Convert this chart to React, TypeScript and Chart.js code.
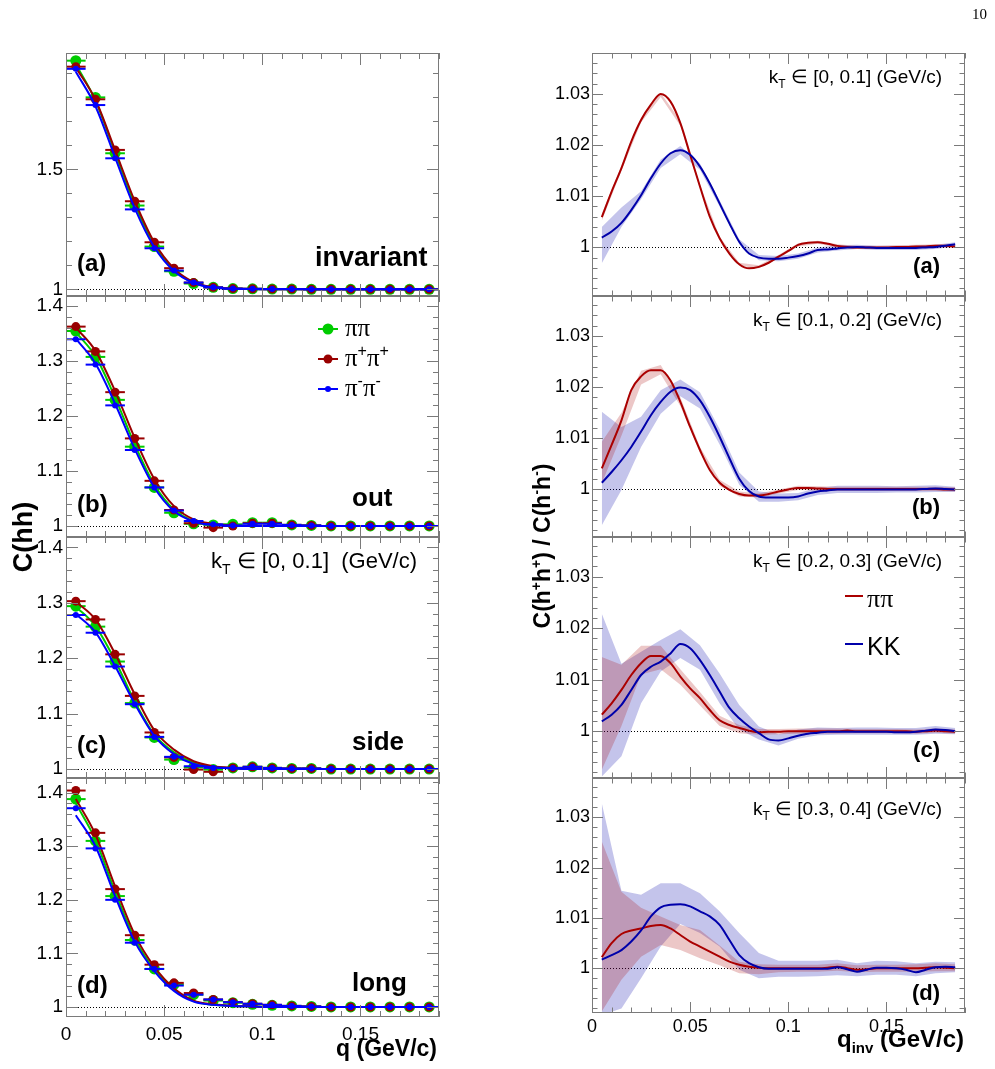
import React, { useEffect, useRef } from "react";
import { Chart, registerables } from "chart.js";

Chart.register(...registerables);

const FONT = "'Liberation Sans', Arial, Helvetica, sans-serif";
const SERIF = "'Liberation Serif', 'Times New Roman', serif";
const PAGE_H = 1069;

// q bin centres (GeV/c) of the correlation-function histograms
const qBins = [0.005, 0.015, 0.025, 0.035, 0.045, 0.055, 0.065, 0.075, 0.085, 0.095, 0.105, 0.115, 0.125, 0.135, 0.145, 0.155, 0.165, 0.175, 0.185];
const qBinHalfWidth = 0.005;
// finer q grid of the ratio curves
const qFine = [0.005, 0.01, 0.015, 0.02, 0.025, 0.03, 0.035, 0.04, 0.045, 0.05, 0.055, 0.06, 0.065, 0.07, 0.075, 0.08, 0.085, 0.09, 0.095, 0.1, 0.105, 0.11, 0.115, 0.12, 0.125, 0.13, 0.135, 0.14, 0.145, 0.15, 0.155, 0.16, 0.165, 0.17, 0.175, 0.18, 0.185];

// tick labels
const qTicks = [0, 0.05, 0.1, 0.15];
const invTicks = [1, 1.5];
const hbtTicks = [1, 1.1, 1.2, 1.3, 1.4];
const ratioTicks = [1, 1.01, 1.02, 1.03];

// ---- C(hh), kT in [0, 0.1] GeV/c ----
const invPiPi = [1.953, 1.800, 1.567, 1.349, 1.178, 1.075, 1.024, 1.008, 1.003, 1.002, 1.001, 1.001, 1.000, 1.000, 1.000, 1.000, 1.000, 1.000, 1.000];
const invPipPip = [1.928, 1.792, 1.581, 1.367, 1.196, 1.088, 1.028, 1.008, 1.003, 1.002, 1.001, 1.001, 1.000, 1.000, 1.000, 1.000, 1.000, 1.000, 1.000];
const invPimPim = [1.919, 1.768, 1.546, 1.333, 1.171, 1.078, 1.028, 1.008, 1.003, 1.002, 1.001, 1.001, 1.000, 1.000, 1.000, 1.000, 1.000, 1.000, 1.000];
const invFitPiPi = [1.938, 1.787, 1.570, 1.355, 1.185, 1.080, 1.027, 1.008, 1.002, 1.001, 1.000, 1.000, 1.000, 1.000, 1.000, 1.000, 1.000, 1.000, 1.000];
const invFitPipPip = [1.925, 1.790, 1.580, 1.368, 1.195, 1.087, 1.030, 1.009, 1.003, 1.001, 1.000, 1.000, 1.000, 1.000, 1.000, 1.000, 1.000, 1.000, 1.000];
const invFitPimPim = [1.907, 1.763, 1.550, 1.338, 1.175, 1.076, 1.026, 1.007, 1.002, 1.001, 1.000, 1.000, 1.000, 1.000, 1.000, 1.000, 1.000, 1.000, 1.000];

const outPiPi = [1.354, 1.307, 1.229, 1.144, 1.070, 1.024, 1.004, 1.002, 1.003, 1.006, 1.006, 1.002, 1.001, 1.000, 1.000, 1.000, 1.000, 1.000, 1.000];
const outPipPip = [1.362, 1.317, 1.243, 1.159, 1.082, 1.029, 1.005, 0.997, 1.000, 1.005, 1.005, 1.002, 1.001, 1.000, 1.000, 1.000, 1.000, 1.000, 1.000];
const outPimPim = [1.339, 1.293, 1.219, 1.138, 1.070, 1.028, 1.009, 1.003, 1.001, 1.004, 1.004, 1.002, 1.001, 1.000, 1.000, 1.000, 1.000, 1.000, 1.000];
const outFitPiPi = [1.352, 1.308, 1.233, 1.148, 1.075, 1.030, 1.009, 1.003, 1.001, 1.000, 1.000, 1.000, 1.000, 1.000, 1.000, 1.000, 1.000, 1.000, 1.000];
const outFitPipPip = [1.360, 1.318, 1.245, 1.160, 1.085, 1.036, 1.012, 1.004, 1.001, 1.000, 1.000, 1.000, 1.000, 1.000, 1.000, 1.000, 1.000, 1.000, 1.000];
const outFitPimPim = [1.340, 1.295, 1.222, 1.140, 1.070, 1.027, 1.008, 1.002, 1.000, 1.000, 1.000, 1.000, 1.000, 1.000, 1.000, 1.000, 1.000, 1.000, 1.000];

const sidePiPi = [1.294, 1.257, 1.194, 1.119, 1.057, 1.017, 1.003, 0.999, 1.002, 1.004, 1.002, 1.001, 1.001, 1.000, 1.000, 1.000, 1.000, 1.000, 1.000];
const sidePipPip = [1.303, 1.270, 1.207, 1.132, 1.066, 1.021, 0.999, 0.995, 1.002, 1.004, 1.002, 1.001, 1.001, 1.000, 1.000, 1.000, 1.000, 1.000, 1.000];
const sidePimPim = [1.278, 1.246, 1.185, 1.117, 1.058, 1.022, 1.005, 1.002, 1.002, 1.004, 1.002, 1.001, 1.001, 1.000, 1.000, 1.000, 1.000, 1.000, 1.000];
const sideFitPiPi = [1.293, 1.258, 1.196, 1.122, 1.062, 1.030, 1.011, 1.004, 1.001, 1.000, 1.000, 1.000, 1.000, 1.000, 1.000, 1.000, 1.000, 1.000, 1.000];
const sideFitPipPip = [1.302, 1.270, 1.208, 1.135, 1.070, 1.035, 1.014, 1.005, 1.002, 1.000, 1.000, 1.000, 1.000, 1.000, 1.000, 1.000, 1.000, 1.000, 1.000];
const sideFitPimPim = [1.280, 1.247, 1.186, 1.118, 1.060, 1.027, 1.009, 1.003, 1.001, 1.000, 1.000, 1.000, 1.000, 1.000, 1.000, 1.000, 1.000, 1.000, 1.000];

const longPiPi = [1.388, 1.310, 1.207, 1.125, 1.071, 1.042, 1.023, 1.012, 1.008, 1.005, 1.003, 1.002, 1.001, 1.000, 1.000, 1.000, 1.000, 1.000, 1.000];
const longPipPip = [1.404, 1.325, 1.220, 1.134, 1.079, 1.045, 1.026, 1.014, 1.009, 1.006, 1.004, 1.002, 1.001, 1.000, 1.000, 1.000, 1.000, 1.000, 1.000];
const longPimPim = [1.371, 1.296, 1.200, 1.120, 1.071, 1.040, 1.023, 1.014, 1.009, 1.006, 1.004, 1.002, 1.001, 1.000, 1.000, 1.000, 1.000, 1.000, 1.000];
const longFitPiPi = [1.380, 1.312, 1.215, 1.128, 1.070, 1.032, 1.011, 1.004, 1.002, 1.001, 1.000, 1.000, 1.000, 1.000, 1.000, 1.000, 1.000, 1.000, 1.000];
const longFitPipPip = [1.388, 1.322, 1.225, 1.135, 1.075, 1.035, 1.012, 1.005, 1.002, 1.001, 1.000, 1.000, 1.000, 1.000, 1.000, 1.000, 1.000, 1.000, 1.000];
const longFitPimPim = [1.358, 1.300, 1.207, 1.122, 1.067, 1.030, 1.010, 1.004, 1.002, 1.001, 1.000, 1.000, 1.000, 1.000, 1.000, 1.000, 1.000, 1.000, 1.000];

// ---- C(h+h+) / C(h-h-) ratio curves (qFine) and bands (qBins) ----
const kt1Pi = [1.0059, 1.0109, 1.0155, 1.0207, 1.0249, 1.0279, 1.0300, 1.0285, 1.0243, 1.0181, 1.0119, 1.0060, 1.0018, 0.9988, 0.9967, 0.9959, 0.9962, 0.9970, 0.9982, 0.9993, 1.0005, 1.0009, 1.0010, 1.0007, 1.0003, 1.0001, 1.0000, 1.0000, 1.0000, 1.0000, 1.0001, 1.0001, 1.0002, 1.0002, 1.0003, 1.0003, 1.0002];
const kt1K = [1.0019, 1.0031, 1.0048, 1.0073, 1.0102, 1.0135, 1.0164, 1.0184, 1.0190, 1.0181, 1.0158, 1.0125, 1.0086, 1.0047, 1.0011, 0.9988, 0.9980, 0.9978, 0.9978, 0.9980, 0.9983, 0.9988, 0.9995, 0.9996, 0.9998, 1.0000, 1.0001, 1.0000, 0.9999, 0.9999, 0.9999, 0.9999, 0.9999, 1.0000, 1.0001, 1.0003, 1.0006];
const kt1PiLo = [1.0052, 1.0150, 1.0244, 1.0294, 1.0238, 1.0115, 1.0015, 0.9964, 0.9959, 0.9979, 1.0002, 1.0007, 1.0000, 0.9997, 0.9997, 0.9998, 0.9999, 1.0000, 0.9999];
const kt1PiHi = [1.0066, 1.0160, 1.0254, 1.0302, 1.0248, 1.0123, 1.0021, 0.9970, 0.9965, 0.9985, 1.0008, 1.0013, 1.0006, 1.0003, 1.0003, 1.0004, 1.0005, 1.0006, 1.0005];
const kt1KLo = [0.9969, 1.0040, 1.0094, 1.0155, 1.0182, 1.0152, 1.0080, 1.0006, 0.9975, 0.9973, 0.9978, 0.9990, 0.9994, 0.9997, 0.9995, 0.9995, 0.9995, 0.9997, 1.0002];
const kt1KHi = [1.0040, 1.0078, 1.0110, 1.0172, 1.0198, 1.0164, 1.0092, 1.0016, 0.9985, 0.9983, 0.9988, 1.0000, 1.0004, 1.0005, 1.0003, 1.0003, 1.0003, 1.0005, 1.0010];

const kt2Pi = [1.0041, 1.0087, 1.0135, 1.0194, 1.0221, 1.0233, 1.0233, 1.0213, 1.0171, 1.0122, 1.0077, 1.0038, 1.0013, 0.9999, 0.9991, 0.9988, 0.9988, 0.9991, 0.9996, 1.0000, 1.0003, 1.0003, 1.0002, 1.0001, 1.0001, 1.0001, 1.0001, 1.0001, 1.0001, 1.0001, 1.0001, 1.0001, 1.0001, 1.0001, 1.0001, 1.0000, 1.0000];
const kt2K = [1.0013, 1.0034, 1.0057, 1.0083, 1.0113, 1.0145, 1.0171, 1.0191, 1.0199, 1.0194, 1.0174, 1.0142, 1.0103, 1.0061, 1.0021, 0.9997, 0.9986, 0.9984, 0.9984, 0.9984, 0.9986, 0.9992, 0.9996, 0.9998, 1.0000, 1.0000, 1.0000, 1.0000, 1.0000, 1.0000, 1.0000, 1.0000, 1.0000, 1.0001, 1.0002, 1.0001, 1.0000];
const kt2PiLo = [1.0012, 1.0105, 1.0205, 1.0225, 1.0163, 1.0071, 1.0007, 0.9986, 0.9984, 0.9992, 0.9999, 0.9998, 0.9997, 0.9997, 0.9997, 0.9997, 0.9997, 0.9997, 0.9996];
const kt2PiHi = [1.0093, 1.0150, 1.0232, 1.0243, 1.0180, 1.0083, 1.0019, 0.9996, 0.9992, 1.0000, 1.0007, 1.0006, 1.0005, 1.0005, 1.0005, 1.0005, 1.0005, 1.0005, 1.0004];
const kt2KLo = [0.9930, 0.9999, 1.0083, 1.0148, 1.0182, 1.0158, 1.0088, 1.0009, 0.9976, 0.9976, 0.9979, 0.9989, 0.9993, 0.9993, 0.9993, 0.9994, 0.9994, 0.9995, 0.9995];
const kt2KHi = [1.0152, 1.0122, 1.0142, 1.0194, 1.0215, 1.0190, 1.0118, 1.0033, 0.9996, 0.9992, 0.9993, 1.0003, 1.0007, 1.0007, 1.0007, 1.0006, 1.0007, 1.0008, 1.0005];

const kt3Pi = [1.0032, 1.0054, 1.0080, 1.0109, 1.0132, 1.0146, 1.0146, 1.0132, 1.0106, 1.0083, 1.0064, 1.0041, 1.0021, 1.0012, 1.0006, 1.0001, 0.9998, 0.9999, 0.9999, 1.0000, 1.0000, 1.0000, 1.0000, 1.0000, 1.0000, 1.0001, 1.0000, 1.0000, 1.0000, 1.0000, 1.0000, 1.0000, 0.9999, 1.0000, 1.0001, 1.0000, 0.9999];
const kt3K = [1.0019, 1.0032, 1.0051, 1.0080, 1.0109, 1.0125, 1.0135, 1.0151, 1.0169, 1.0161, 1.0138, 1.0109, 1.0077, 1.0045, 1.0025, 1.0009, 0.9996, 0.9984, 0.9982, 0.9986, 0.9991, 0.9995, 0.9997, 0.9999, 0.9999, 0.9999, 0.9999, 0.9999, 0.9999, 0.9999, 0.9998, 0.9998, 0.9999, 1.0001, 1.0003, 1.0002, 1.0000];
const kt3PiLo = [0.9925, 1.0010, 1.0110, 1.0120, 1.0090, 1.0050, 1.0010, 0.9996, 0.9993, 0.9994, 0.9995, 0.9995, 0.9995, 0.9996, 0.9996, 0.9996, 0.9995, 0.9997, 0.9995];
const kt3PiHi = [1.0144, 1.0129, 1.0166, 1.0166, 1.0120, 1.0076, 1.0030, 1.0012, 1.0004, 1.0004, 1.0005, 1.0005, 1.0005, 1.0004, 1.0004, 1.0004, 1.0003, 1.0005, 1.0003];
const kt3KLo = [0.9912, 0.9951, 1.0054, 1.0116, 1.0142, 1.0119, 1.0054, 1.0003, 0.9984, 0.9972, 0.9985, 0.9992, 0.9993, 0.9993, 0.9993, 0.9993, 0.9993, 0.9995, 0.9994];
const kt3KHi = [1.0228, 1.0131, 1.0154, 1.0177, 1.0198, 1.0167, 1.0112, 1.0051, 1.0009, 0.9994, 1.0003, 1.0007, 1.0006, 1.0007, 1.0007, 1.0006, 1.0006, 1.0010, 1.0006];

const kt4Pi = [1.0022, 1.0050, 1.0068, 1.0075, 1.0079, 1.0084, 1.0086, 1.0079, 1.0066, 1.0053, 1.0043, 1.0033, 1.0023, 1.0013, 1.0007, 1.0003, 1.0001, 1.0000, 1.0000, 1.0000, 1.0000, 1.0000, 1.0000, 1.0001, 1.0003, 1.0000, 0.9997, 0.9998, 1.0000, 1.0000, 1.0000, 1.0000, 1.0000, 1.0001, 1.0002, 1.0001, 1.0000];
const kt4K = [1.0017, 1.0026, 1.0036, 1.0053, 1.0075, 1.0103, 1.0121, 1.0126, 1.0127, 1.0123, 1.0113, 1.0103, 1.0086, 1.0056, 1.0026, 1.0010, 1.0002, 0.9999, 0.9999, 0.9999, 0.9999, 0.9999, 0.9999, 0.9999, 1.0002, 0.9998, 0.9993, 0.9997, 1.0001, 1.0001, 1.0000, 0.9997, 0.9992, 0.9997, 1.0002, 1.0003, 1.0002];
const kt4PiLo = [0.9914, 0.9977, 1.0023, 1.0046, 1.0036, 1.0020, 1.0006, 0.9990, 0.9988, 0.9992, 0.9993, 0.9993, 0.9995, 0.9992, 0.9993, 0.9993, 0.9993, 0.9994, 0.9994];
const kt4PiHi = [1.0252, 1.0152, 1.0120, 1.0103, 1.0086, 1.0076, 1.0045, 1.0013, 1.0008, 1.0007, 1.0007, 1.0007, 1.0010, 1.0006, 1.0007, 1.0007, 1.0008, 1.0010, 1.0008];
const kt4KLo = [0.9907, 0.9920, 0.9980, 1.0043, 1.0088, 1.0070, 1.0043, 0.9997, 0.9980, 0.9983, 0.9983, 0.9984, 0.9986, 0.9984, 0.9987, 0.9987, 0.9984, 0.9990, 0.9992];
const kt4KHi = [1.0328, 1.0154, 1.0146, 1.0169, 1.0169, 1.0149, 1.0113, 1.0070, 1.0030, 1.0015, 1.0015, 1.0015, 1.0017, 1.0010, 1.0015, 1.0014, 1.0010, 1.0013, 1.0012];

// colours
const GREEN = "#00cc00";
const DARK_RED = "#990000";
const BLUE = "#0000ff";
const PI_LINE = "#aa0000";
const K_LINE = "#0000aa";
const PI_BAND = "rgba(170,0,0,0.22)";
const K_BAND = "rgba(0,0,170,0.23)";
const FRAME = "#7a7a7a";

type Seg = { t: string; sup?: boolean; sub?: boolean; family?: string };
type TextItem = {
  kind?: "text"; x: number; y: number; segs: Seg[]; size: number;
  bold?: boolean; family?: string; align?: "left" | "right" | "center"; rotate?: number;
};
type MarkerItem = { kind: "marker"; x1: number; x2: number; y: number; color: string; r: number };
type Item = TextItem | MarkerItem;

const plain = (t: string): Seg[] => [{ t }];

function segFont(it: TextItem, s: Seg) {
  const size = s.sup || s.sub ? Math.round(it.size * 0.62) : it.size;
  return `${it.bold ? "bold " : ""}${size}px ${s.family || it.family || FONT}`;
}

function drawItems(ctx: CanvasRenderingContext2D, items: Item[], ox: number) {
  for (const it of items) {
    ctx.save();
    if (it.kind === "marker") {
      ctx.strokeStyle = it.color;
      ctx.fillStyle = it.color;
      ctx.lineWidth = 2;
      ctx.beginPath();
      ctx.moveTo(it.x1 - ox, it.y);
      ctx.lineTo(it.x2 - ox, it.y);
      ctx.stroke();
      if (it.r > 0) {
        ctx.beginPath();
        ctx.arc((it.x1 + it.x2) / 2 - ox, it.y, it.r, 0, Math.PI * 2);
        ctx.fill();
      }
      ctx.restore();
      continue;
    }
    ctx.translate(it.x - ox, it.y);
    if (it.rotate) ctx.rotate((it.rotate * Math.PI) / 180);
    ctx.textBaseline = "alphabetic";
    ctx.textAlign = "left";
    ctx.fillStyle = "#000";
    let total = 0;
    const widths = it.segs.map((s) => {
      ctx.font = segFont(it, s);
      const w = ctx.measureText(s.t).width;
      total += w;
      return w;
    });
    let cx = it.align === "right" ? -total : it.align === "center" ? -total / 2 : 0;
    it.segs.forEach((s, i) => {
      ctx.font = segFont(it, s);
      const dy = s.sup ? -it.size * 0.4 : s.sub ? it.size * 0.25 : 0;
      ctx.fillText(s.t, cx, dy);
      cx += widths[i];
    });
    ctx.restore();
  }
}

// ROOT-like frame: box, inward major/minor ticks on all four sides, dotted line at 1
function framePlugin(xMinor: number, yMinor: number, majorLen: number, minorLen: number, items: Item[], ox: number) {
  const minors = (min: number, max: number, step: number, majors: number[]) => {
    const out: number[] = [];
    for (let k = Math.ceil(min / step - 1e-6); k * step <= max + 1e-9; k++) {
      const v = k * step;
      if (!majors.some((m) => Math.abs(m - v) < step * 1e-3)) out.push(v);
    }
    return out;
  };
  return {
    id: "rootFrame",
    beforeDatasetsDraw(chart: any) {
      const { ctx, chartArea: a, scales } = chart;
      const py = Math.round(scales.y.getPixelForValue(1)) + 0.5;
      ctx.save();
      ctx.strokeStyle = "#000";
      ctx.lineWidth = 1;
      ctx.setLineDash([1, 2]);
      ctx.beginPath();
      ctx.moveTo(a.left, py);
      ctx.lineTo(a.right, py);
      ctx.stroke();
      ctx.restore();
    },
    afterDraw(chart: any) {
      const { ctx, chartArea: a, scales } = chart;
      const xs = scales.x, ys = scales.y;
      ctx.save();
      ctx.strokeStyle = FRAME;
      ctx.lineWidth = 1;
      ctx.strokeRect(a.left + 0.5, a.top + 0.5, a.right - a.left - 1, a.bottom - a.top - 1);
      const xMaj = xs.ticks.map((t: any) => t.value);
      const yMaj = ys.ticks.map((t: any) => t.value);
      ctx.beginPath();
      const xTick = (v: number, len: number) => {
        const px = Math.round(xs.getPixelForValue(v)) + 0.5;
        ctx.moveTo(px, a.bottom);
        ctx.lineTo(px, a.bottom - len);
        ctx.moveTo(px, a.top);
        ctx.lineTo(px, a.top + len);
      };
      const yTick = (v: number, len: number) => {
        const py = Math.round(ys.getPixelForValue(v)) + 0.5;
        ctx.moveTo(a.left, py);
        ctx.lineTo(a.left + len, py);
        ctx.moveTo(a.right, py);
        ctx.lineTo(a.right - len, py);
      };
      xMaj.forEach((v: number) => xTick(v, majorLen));
      minors(xs.min, xs.max, xMinor, xMaj).forEach((v) => xTick(v, minorLen));
      yMaj.forEach((v: number) => yTick(v, majorLen));
      minors(ys.min, ys.max, yMinor, yMaj).forEach((v) => yTick(v, minorLen));
      ctx.stroke();
      ctx.restore();
      drawItems(ctx, items, ox);
    },
  };
}

const fmt = (v: number | string) => String(Math.round(Number(v) * 10000) / 10000);
const xy = (xs: number[], ys: number[]) => xs.map((x, i) => ({ x, y: ys[i] }));

type Geometry = {
  left: number; width: number; axisWidth: number; padRight: number;
  top: number; bottom: number; isBottom: boolean; xLabelPad: number; yLabelPad: number; fontSize: number;
};

function scaleOptions(g: Geometry, yMin: number, yMax: number, yTicks: number[]) {
  const xLabelH = 36;
  return {
    responsive: false,
    animation: false,
    devicePixelRatio: 1,
    events: [],
    layout: {
      padding: { left: 0, right: g.padRight, top: g.top, bottom: PAGE_H - g.bottom - (g.isBottom ? xLabelH : 0) },
    },
    plugins: { legend: { display: false }, tooltip: { enabled: false } },
    scales: {
      x: {
        type: "linear", min: 0, max: 0.19,
        grid: { display: false, drawTicks: false }, border: { display: false },
        ticks: {
          display: g.isBottom, autoSkip: false, maxRotation: 0, minRotation: 0, padding: g.xLabelPad,
          color: "#000", font: { family: FONT, size: g.fontSize }, callback: fmt,
        },
        afterBuildTicks: (s: any) => { s.ticks = qTicks.map((value) => ({ value })); },
        afterFit: (s: any) => { s.height = g.isBottom ? xLabelH : 0; },
      },
      y: {
        type: "linear", min: yMin, max: yMax,
        grid: { display: false, drawTicks: false }, border: { display: false },
        ticks: {
          autoSkip: false, padding: g.yLabelPad, color: "#000",
          font: { family: FONT, size: g.fontSize }, callback: fmt,
        },
        afterBuildTicks: (s: any) => { s.ticks = yTicks.map((value) => ({ value })); },
        afterFit: (s: any) => { s.width = g.axisWidth; },
      },
    },
  };
}

type HbtSeries = { pts: number[]; fit: number[]; color: string; r: number; order: number };

function hbtConfig(g: Geometry, yMin: number, yMax: number, yTicks: number[], yMinor: number, series: HbtSeries[], items: Item[]) {
  const errRadius = (c: any) => {
    const s = c.chart.scales.x;
    return Math.abs(s.getPixelForValue(qBinHalfWidth) - s.getPixelForValue(0));
  };
  const datasets: any[] = [];
  for (const s of series) {
    datasets.push({
      data: xy(qBins, s.pts), showLine: false, pointRadius: s.r, pointBackgroundColor: s.color,
      pointBorderWidth: 0, pointBorderColor: s.color, order: s.order,
    });
    datasets.push({
      data: xy(qBins, s.pts), showLine: false, pointStyle: "line", pointRadius: errRadius,
      pointBorderWidth: 2, pointBorderColor: s.color, order: s.order - 1,
    });
    datasets.push({
      data: xy(qBins, s.fit), borderColor: s.color, borderWidth: 2, pointRadius: 0, fill: false,
      cubicInterpolationMode: "monotone", order: s.order - 2,
    });
  }
  return {
    type: "line",
    data: { datasets },
    options: scaleOptions(g, yMin, yMax, yTicks),
    plugins: [framePlugin(0.01, yMinor, 12, 6, items, g.left)],
  };
}

type RatioSet = { pi: number[]; k: number[]; piLo: number[]; piHi: number[]; kLo: number[]; kHi: number[] };

function ratioConfig(g: Geometry, yMin: number, yMax: number, r: RatioSet, items: Item[]) {
  const band = (lo: number[], hi: number[], color: string, order: number) => [
    { data: xy(qBins, lo), borderWidth: 0, borderColor: "rgba(0,0,0,0)", pointRadius: 0, fill: false, order },
    { data: xy(qBins, hi), borderWidth: 0, borderColor: "rgba(0,0,0,0)", pointRadius: 0, fill: "-1", backgroundColor: color, order },
  ];
  const datasets: any[] = [
    ...band(r.kLo, r.kHi, K_BAND, 50),
    ...band(r.piLo, r.piHi, PI_BAND, 40),
    { data: xy(qFine, r.pi), borderColor: PI_LINE, borderWidth: 2, pointRadius: 0, fill: false, cubicInterpolationMode: "monotone", order: 20 },
    { data: xy(qFine, r.k), borderColor: K_LINE, borderWidth: 2, pointRadius: 0, fill: false, cubicInterpolationMode: "monotone", order: 10 },
  ];
  return {
    type: "line",
    data: { datasets },
    options: scaleOptions(g, yMin, yMax, ratioTicks),
    plugins: [framePlugin(0.01, 0.002, 11, 5.5, items, g.left)],
  };
}

function ChartCanvas({ left, width, make }: { left: number; width: number; make: () => any }) {
  const ref = useRef<HTMLCanvasElement>(null);
  useEffect(() => {
    const chart = new Chart(ref.current as HTMLCanvasElement, make());
    return () => chart.destroy();
  }, []);
  return (
    <canvas
      ref={ref}
      width={width}
      height={PAGE_H}
      style={{ position: "absolute", left, top: 0, width, height: PAGE_H, display: "block" }}
    />
  );
}

// column geometry
const LEFT_COL = { left: 0, width: 450, axisWidth: 66, padRight: 11, xLabelPad: 6, yLabelPad: 3, fontSize: 19 };
const RIGHT_COL = { left: 500, width: 495, axisWidth: 92, padRight: 30, xLabelPad: 3, yLabelPad: 2, fontSize: 18 };
const leftRows = [[53, 296], [296, 537], [537, 778], [778, 1017]];
const rightRows = [[53, 296], [296, 537], [537, 778], [778, 1013]];

const geo = (col: typeof LEFT_COL, row: number[], isBottom: boolean): Geometry => ({
  ...col, top: row[0], bottom: row[1], isBottom,
});

const hbtSeries = (pp: number[], pfit: number[], pl: number[], plfit: number[], mm: number[], mfit: number[]): HbtSeries[] => [
  { pts: pp, fit: pfit, color: GREEN, r: 5.5, order: 60 },
  { pts: pl, fit: plfit, color: DARK_RED, r: 4.5, order: 50 },
  { pts: mm, fit: mfit, color: BLUE, r: 3, order: 40 },
];

const bold = (x: number, y: number, t: string, size: number, align: "left" | "right" = "left"): TextItem => ({
  x, y, segs: plain(t), size, bold: true, align,
});

const ktLabel = (x: number, y: number, range: string, size: number, gap: string): TextItem => ({
  x, y, size, align: "right",
  segs: [{ t: "k" }, { t: "T", sub: true }, { t: ` \u2208 ${range}${gap}(GeV/c)` }],
});

const piLegend = (x: number, y: number, size: number, sign: string): TextItem => ({
  x, y, size, family: SERIF,
  segs: sign ? [{ t: "\u03c0" }, { t: sign, sup: true, family: FONT }, { t: "\u03c0" }, { t: sign, sup: true, family: FONT }] : [{ t: "\u03c0\u03c0" }],
});

export default function App() {
  const leftCharts = [
    () => hbtConfig(geo(LEFT_COL, leftRows[0], false), 0.972, 1.985, invTicks, 0.1,
      hbtSeries(invPiPi, invFitPiPi, invPipPip, invFitPipPip, invPimPim, invFitPimPim),
      [bold(77, 271, "(a)", 24), bold(315, 266, "invariant", 27)]),
    () => hbtConfig(geo(LEFT_COL, leftRows[1], false), 0.980, 1.4176, hbtTicks, 0.02,
      hbtSeries(outPiPi, outFitPiPi, outPipPip, outFitPipPip, outPimPim, outFitPimPim),
      [
        bold(77, 512, "(b)", 24), bold(352, 506, "out", 26),
        { kind: "marker", x1: 318, x2: 338, y: 329, color: GREEN, r: 5.5 },
        { kind: "marker", x1: 318, x2: 338, y: 359, color: DARK_RED, r: 4.5 },
        { kind: "marker", x1: 318, x2: 338, y: 389, color: BLUE, r: 3 },
        piLegend(345, 336, 25, ""), piLegend(345, 366, 25, "+"), piLegend(345, 396, 25, "-"),
      ]),
    () => hbtConfig(geo(LEFT_COL, leftRows[2], false), 0.9838, 1.4188, hbtTicks, 0.02,
      hbtSeries(sidePiPi, sideFitPiPi, sidePipPip, sideFitPipPip, sidePimPim, sideFitPimPim),
      [bold(77, 753, "(c)", 24), bold(352, 750, "side", 26), ktLabel(417, 568, "[0, 0.1]", 22, "  ")]),
    () => hbtConfig(geo(LEFT_COL, leftRows[3], true), 0.9813, 1.4274, hbtTicks, 0.02,
      hbtSeries(longPiPi, longFitPiPi, longPipPip, longFitPipPip, longPimPim, longFitPimPim),
      [
        bold(77, 993, "(d)", 24), bold(352, 991, "long", 26),
        { x: 32, y: 537, segs: plain("C(hh)"), size: 27, bold: true, align: "center", rotate: -90 },
        bold(437, 1056, "q (GeV/c)", 23, "right"),
      ]),
  ];

  const rightCharts = [
    () => ratioConfig(geo(RIGHT_COL, rightRows[0], false), 0.9905, 1.038,
      { pi: kt1Pi, k: kt1K, piLo: kt1PiLo, piHi: kt1PiHi, kLo: kt1KLo, kHi: kt1KHi },
      [ktLabel(942, 83, "[0, 0.1]", 19, " "), bold(940, 273, "(a)", 22, "right")]),
    () => ratioConfig(geo(RIGHT_COL, rightRows[1], false), 0.9907, 1.0378,
      { pi: kt2Pi, k: kt2K, piLo: kt2PiLo, piHi: kt2PiHi, kLo: kt2KLo, kHi: kt2KHi },
      [ktLabel(942, 326, "[0.1, 0.2]", 19, " "), bold(940, 514, "(b)", 22, "right")]),
    () => ratioConfig(geo(RIGHT_COL, rightRows[2], false), 0.9909, 1.0377,
      { pi: kt3Pi, k: kt3K, piLo: kt3PiLo, piHi: kt3PiHi, kLo: kt3KLo, kHi: kt3KHi },
      [
        ktLabel(942, 567, "[0.2, 0.3]", 19, " "), bold(940, 757, "(c)", 22, "right"),
        { kind: "marker", x1: 845, x2: 863, y: 596, color: PI_LINE, r: 0 },
        { kind: "marker", x1: 845, x2: 863, y: 644, color: K_LINE, r: 0 },
        { x: 867, y: 607, segs: plain("\u03c0\u03c0"), size: 26, family: SERIF },
        { x: 867, y: 655, segs: plain("KK"), size: 25 },
      ]),
    () => ratioConfig(geo(RIGHT_COL, rightRows[3], true), 0.9911, 1.0378,
      { pi: kt4Pi, k: kt4K, piLo: kt4PiLo, piHi: kt4PiHi, kLo: kt4KLo, kHi: kt4KHi },
      [
        ktLabel(942, 815, "[0.3, 0.4]", 19, " "), bold(940, 1000, "(d)", 22, "right"),
        {
          x: 550, y: 546, size: 23, bold: true, align: "center", rotate: -90,
          segs: [
            { t: "C(h" }, { t: "+", sup: true }, { t: "h" }, { t: "+", sup: true }, { t: ") / C(h" },
            { t: "-", sup: true }, { t: "h" }, { t: "-", sup: true }, { t: ")" },
          ],
        },
        {
          x: 964, y: 1047, size: 24, bold: true, align: "right",
          segs: [{ t: "q" }, { t: "inv", sub: true }, { t: " (GeV/c)" }],
        },
        { x: 987, y: 19, segs: plain("10"), size: 15, family: SERIF, align: "right" },
      ]),
  ];

  return (
    <div style={{ position: "absolute", left: 0, top: 0, width: 995, height: PAGE_H, background: "#fff", overflow: "hidden" }}>
      {leftCharts.map((make, i) => (
        <ChartCanvas key={`l${i}`} left={LEFT_COL.left} width={LEFT_COL.width} make={make} />
      ))}
      {rightCharts.map((make, i) => (
        <ChartCanvas key={`r${i}`} left={RIGHT_COL.left} width={RIGHT_COL.width} make={make} />
      ))}
    </div>
  );
}
